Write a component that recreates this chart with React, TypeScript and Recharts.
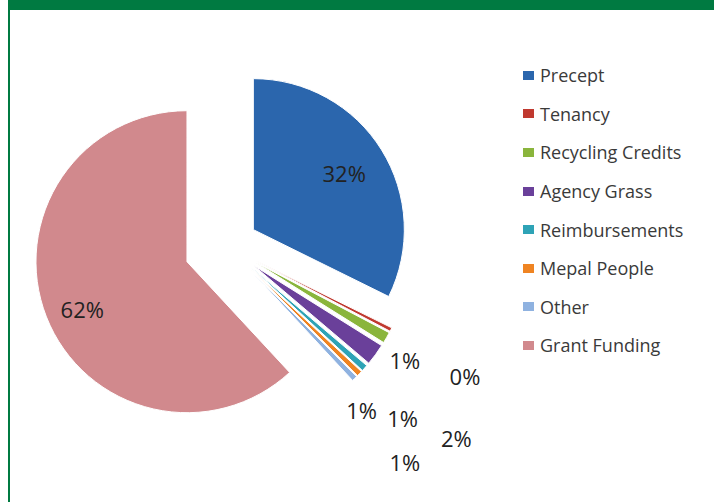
import React from 'react'
import { PieChart, Pie, Cell, Legend } from 'recharts'

const SOURCES = [
  'Precept',
  'Tenancy',
  'Recycling Credits',
  'Agency Grass',
  'Reimbursements',
  'Mepal People',
  'Other',
  'Grant Funding',
]
const SHARES = [32.3, 0.4, 1.2, 2.3, 0.7, 0.6, 0.6, 61.9]
const COLORS = ['#2b66ad', '#c0392f', '#8ab53c', '#6a409a', '#2ea3b6', '#ef8422', '#8fb2e0', '#d1898d']

const data = SOURCES.map((name, i) => ({ name, value: SHARES[i] }))

// layout: how far each slice is pulled out, and where its % label sits
const EXPLODE = [31, 33, 33, 33, 33, 33, 33, 43]
const LABEL_R = [107, 238, 178, 266, 213, 247, 179, 115]
const LABEL_SHIFT = [0, 1.8, 3.2, 4.2, 3.3, 7.5, 5.3, -3]

const GREEN = '#007a41'
const CX = 227
const CY = 246
const RADIUS = 151
const RAD = Math.PI / 180

const total = SHARES.reduce((a, b) => a + b, 0)
// mid angle of each slice, clockwise from 12 o'clock
const MIDS = SHARES.map((v, i) => {
  const before = SHARES.slice(0, i).reduce((a, b) => a + b, 0)
  return ((before + v / 2) / total) * 360
})

function makeLabel(slice: number) {
  return (props: any) => {
    if (props.index !== slice) return null
    const a = (90 - props.midAngle + LABEL_SHIFT[slice]) * RAD
    const x = props.cx + LABEL_R[slice] * Math.sin(a)
    const y = props.cy - LABEL_R[slice] * Math.cos(a)
    return (
      <text
        x={x}
        y={y}
        textAnchor="middle"
        dominantBaseline="central"
        fill="#222"
        fontSize={22}
        fontFamily="Open Sans, sans-serif"
      >
        {`${Math.round(props.percent * 100)}%`}
      </text>
    )
  }
}

// every pie reports its slices to the legend, so keep one entry per source
function LegendList({ payload }: any) {
  const seen = new Map<string, string>()
  for (const entry of payload || []) {
    if (!seen.has(entry.value)) seen.set(entry.value, COLORS[SOURCES.indexOf(entry.value)] ?? entry.color)
  }
  const items = SOURCES.filter(s => seen.has(s))
  return (
    <div style={{ fontFamily: 'Open Sans, sans-serif', fontSize: 18, color: '#3a3a3a' }}>
      {items.map(name => (
        <div key={name} style={{ display: 'flex', alignItems: 'center', height: 38.6 }}>
          <span style={{ display: 'inline-block', width: 11, height: 9, background: seen.get(name), marginRight: 6 }} />
          <span>{name}</span>
        </div>
      ))}
    </div>
  )
}

export default function App() {
  return (
    <div style={{ position: 'absolute', left: 0, top: 0, width: 714, height: 502, background: '#fff', overflow: 'hidden' }}>
      <div style={{ position: 'absolute', left: 8, top: 0, width: 706, height: 502, borderLeft: `2px solid ${GREEN}`, boxSizing: 'border-box' }} />
      <div style={{ position: 'absolute', left: 8, top: 0, width: 706, height: 10, background: GREEN }} />
      <div style={{ position: 'absolute', left: 0, top: 0 }}>
        <PieChart width={714} height={502} margin={{ top: 0, right: 0, bottom: 0, left: 0 }}>
          {SOURCES.map((_, slice) => (
            <Pie
              key={slice}
              data={data}
              dataKey="value"
              nameKey="name"
              cx={CX + EXPLODE[slice] * Math.sin(MIDS[slice] * RAD)}
              cy={CY - EXPLODE[slice] * Math.cos(MIDS[slice] * RAD)}
              outerRadius={RADIUS}
              startAngle={90}
              endAngle={-270}
              isAnimationActive={false}
              labelLine={false}
              label={makeLabel(slice)}
            >
              {data.map((_, i) => (
                <Cell
                  key={i}
                  fill={COLORS[i]}
                  fillOpacity={i === slice ? 1 : 0}
                  stroke={i === slice ? '#fff' : 'none'}
                  strokeWidth={1}
                />
              ))}
            </Pie>
          ))}
          <Legend
            layout="vertical"
            align="right"
            verticalAlign="top"
            content={<LegendList />}
            wrapperStyle={{ left: 523, top: 56, width: 190 }}
          />
        </PieChart>
      </div>
    </div>
  )
}
